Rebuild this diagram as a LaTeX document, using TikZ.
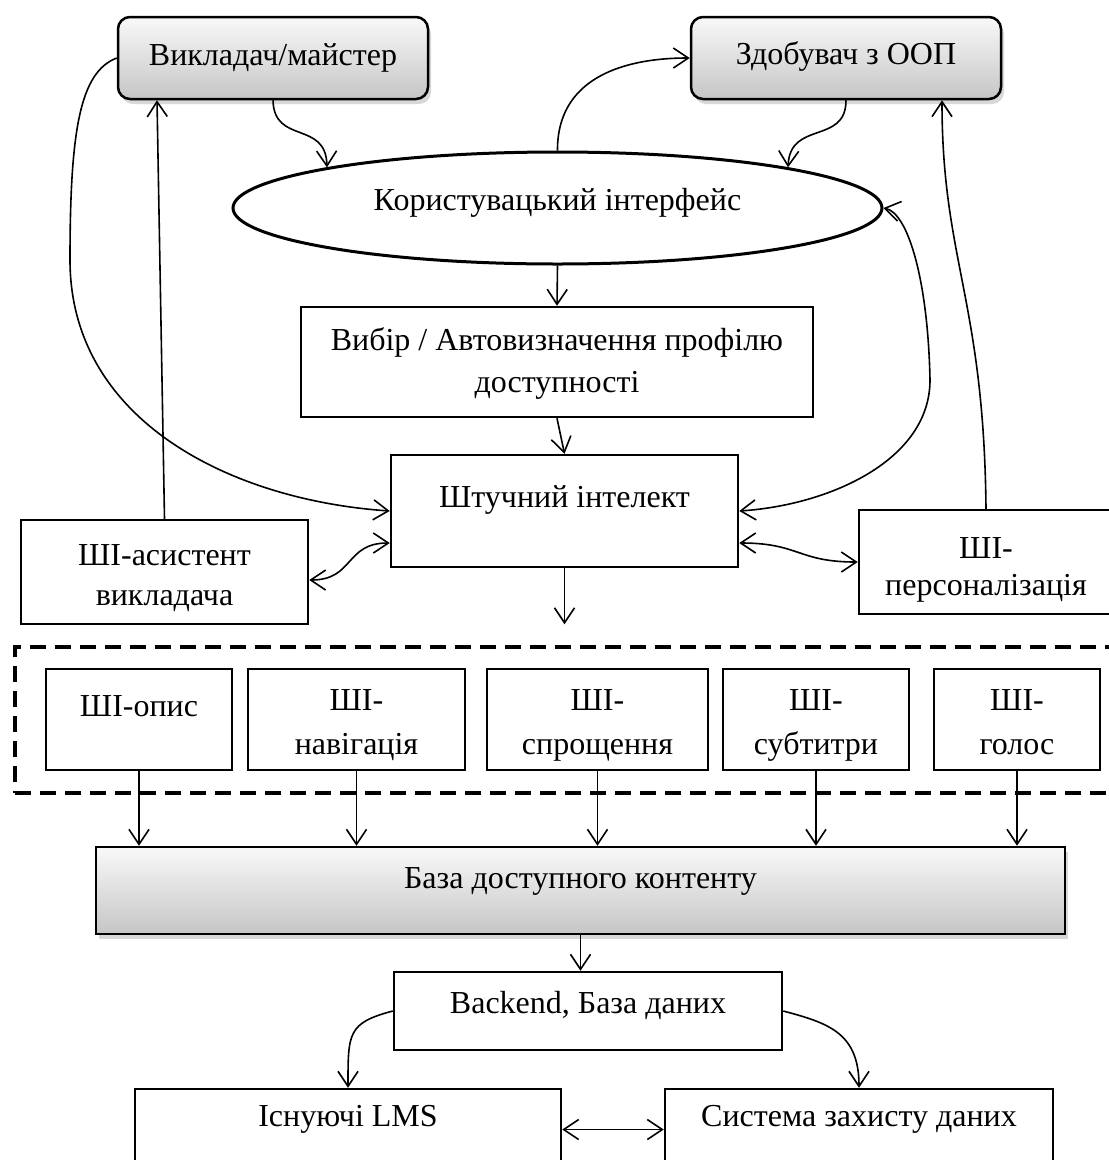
\documentclass[tikz,border=0pt]{standalone}
\usepackage{fontspec}
\setmainfont{Liberation Serif}
\usetikzlibrary{arrows.meta,shadows,shapes.geometric}
\begin{document}
\begin{tikzpicture}[x=1pt,y=-1pt,
  every node/.style={font=\fontsize{32}{39}\selectfont},
  sz/.style 2 args={minimum width=#1pt, minimum height=#2pt},
  box/.style={draw, line width=2.5pt, inner sep=0pt, fill=white},
  gbox/.style={draw, line width=2.5pt, inner sep=0pt, rounded corners=12pt,
    top color=gray!5, bottom color=gray!45,
    drop shadow={shadow xshift=3pt, shadow yshift=-5pt, opacity=0.3}},
  gsq/.style={draw, line width=2.5pt, inner sep=0pt,
    top color=gray!5, bottom color=gray!45,
    drop shadow={shadow xshift=3pt, shadow yshift=-5pt, opacity=0.3}},
  txt/.style={anchor=base, inner sep=0pt},
  arr/.style={line width=1.6pt, -{Straight Barb[length=15pt,width=20pt]}},
  darr/.style={line width=1.6pt, {Straight Barb[length=15pt,width=20pt]}-{Straight Barb[length=15pt,width=20pt]}},
  grpbox/.style={draw, line width=3.5pt, dash pattern=on 16pt off 9pt, inner sep=0pt},
]
\useasboundingbox (0,0) rectangle (1109,1160);
\fill[white] (0,0) rectangle (1109,1160);
\clip (0,0) rectangle (1109,1160);

% top nodes
\node[gbox, sz={310}{82}] (vykl) at (273,58) {};
\node[txt] (t-vykl) at (273,65) {Викладач/майстер};
\node[gbox, sz={310}{82}] (zdob) at (846,58) {};
\node[txt] (t-zdob) at (846,64) {Здобувач з ООП};

\node[draw, ellipse, line width=3pt, inner sep=0pt, sz={649}{112}] (ui) at (557.5,208) {};
\node[txt] (t-ui) at (557.5,210) {Користувацький інтерфейс};

\node[box, sz={512}{110}] (vybir) at (557,362) {};
\node[txt] (t-vyb1) at (557,350) {Вибір / Автовизначення профілю};
\node[txt] (t-vyb2) at (557,392) {доступності};

\node[box, sz={347}{112}] (shtuch) at (564.5,511) {};
\node[txt] (t-sht) at (564.5,507) {Штучний інтелект};

\node[box, sz={287}{104}] (asyst) at (164.5,572) {};
\node[txt] (t-as1) at (164.5,565) {ШІ-асистент};
\node[txt] (t-as2) at (164.5,605) {викладача};

\node[box, sz={254}{104}] (person) at (986,562) {};
\node[txt] (t-pe1) at (986,558) {ШІ-};
\node[txt] (t-pe2) at (986,595) {персоналізація};

% dashed group
\node[grpbox, sz={1105}{146}] (grp) at (567.5,720) {};
\node[box, sz={186}{101}] (opis) at (139,719.5) {};
\node[txt] (t-opis) at (139,716) {ШІ-опис};
\node[box, sz={217}{101}] (nav) at (356.5,719.5) {};
\node[txt] (t-nav1) at (356.5,710) {ШІ-};
\node[txt] (t-nav2) at (356.5,754) {навігація};
\node[box, sz={221}{101}] (spr) at (597.5,719.5) {};
\node[txt] (t-spr1) at (597.5,710) {ШІ-};
\node[txt] (t-spr2) at (597.5,754) {спрощення};
\node[box, sz={186}{101}] (sub) at (816,719.5) {};
\node[txt] (t-sub1) at (816,710) {ШІ-};
\node[txt] (t-sub2) at (816,754) {субтитри};
\node[box, sz={166}{101}] (golos) at (1017,719.5) {};
\node[txt] (t-gol1) at (1017,710) {ШІ-};
\node[txt] (t-gol2) at (1017,754) {голос};

% bottom
\node[gsq, sz={969}{87}] (baza) at (580.5,890.5) {};
\node[txt] (t-baza) at (580.5,888) {База доступного контенту};
\node[box, sz={388}{78}] (backend) at (588,1011) {};
\node[txt] (t-back) at (588,1013) {Backend, База даних};
\node[box, sz={426}{81}] (lms) at (348,1129.5) {};
\node[txt] (t-lms) at (348,1126) {Існуючі LMS};
\node[box, sz={388}{81}] (sys) at (859,1129.5) {};
\node[txt] (t-sys) at (859,1126) {Система захисту даних};

% connectors
\draw[arr] (vykl.south) .. controls (274,145) and (326,120) .. (ui.170);
\draw[arr] (zdob.south) .. controls (846,145) and (790,120) .. (ui.10);
\draw[arr] (ui.north) .. controls (557,80) and (620,58) .. (zdob.west);
\draw[arr] (ui.south) -- (vybir.north);
\draw[arr] (vybir.south) -- (shtuch.north);
\draw[arr] (vykl.west) .. controls (80,72) and (70,130) .. (70,260)
  .. controls (70,420) and (230,500) .. (shtuch.west);
\draw[darr] (ui.east) .. controls (908,213) and (928,280) .. (930,380)
  .. controls (930,460) and (830,505) .. (shtuch.east);
\draw[arr] (asyst.north) -- ([xshift=-116pt]vykl.south);
\draw[arr] (person.north) .. controls (984,300) and (942,260) .. ([xshift=96pt]zdob.south);
\draw[darr] ([yshift=-8pt]asyst.east) .. controls +(45,0) and +(-45,0) .. ([yshift=-32pt]shtuch.west);
\draw[darr] ([yshift=-32pt]shtuch.east) .. controls +(60,0) and +(-60,0) .. (person.west);
\draw[arr] (shtuch.south) -- ++(0,56);
\foreach \n in {opis,nav,spr,sub,golos}
  \draw[arr] (\n.south) -- (\n.south |- baza.north);
\draw[arr] (baza.south) -- (baza.south |- backend.north);
\draw[arr] (backend.west) .. controls +(-45,12) and +(0,-55) .. (lms.north);
\draw[arr] (backend.east) .. controls +(45,12) and +(0,-55) .. (sys.north);
\draw[darr] (lms.east) -- (sys.west);
\end{tikzpicture}
\end{document}
